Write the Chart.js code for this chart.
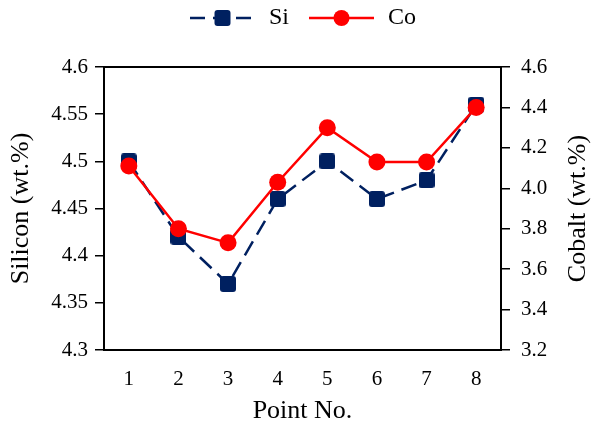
<!DOCTYPE html>
<html>
<head>
<meta charset="utf-8">
<script src="https://cdn.jsdelivr.net/npm/chart.js@4.4.1/dist/chart.umd.min.js"></script>
<style>
  html, body { margin: 0; padding: 0; background: #ffffff; }
  #wrap { width: 592px; height: 430px; }
</style>
</head>
<body>
<div id="wrap"><canvas id="chart" width="592" height="430"></canvas></div>
<script>
// Measurement points along the sample
const pointNo = ['1', '2', '3', '4', '5', '6', '7', '8'];
// Silicon content, wt.%
const siliconWt = [4.50, 4.42, 4.37, 4.46, 4.50, 4.46, 4.48, 4.56];
// Cobalt content, wt.%
const cobaltWt = [4.11, 3.80, 3.73, 4.03, 4.30, 4.13, 4.13, 4.40];
// Axis tick labels
const siliconTicks = ['4.3', '4.35', '4.4', '4.45', '4.5', '4.55', '4.6'];
const cobaltTicks = ['3.2', '3.4', '3.6', '3.8', '4.0', '4.2', '4.4', '4.6'];

const NAVY = '#002060';
const RED = '#FF0000';
const SERIF = "'Liberation Serif', 'Times New Roman', serif";

// Rounded square marker for the silicon series
function squareMarker(size, radius, color) {
  const c = document.createElement('canvas');
  c.width = size; c.height = size;
  const g = c.getContext('2d');
  g.fillStyle = color;
  g.beginPath();
  g.roundRect(0, 0, size, size, radius);
  g.fill();
  return c;
}

// Legend swatch: line segment with the series marker in the middle
function legendSwatch(kind, width, margin) {
  const h = 20;
  const c = document.createElement('canvas');
  c.width = width; c.height = h;
  const g = c.getContext('2d');
  const x0 = margin, x1 = width - 2, mid = (x0 + x1) / 2;
  g.lineWidth = 2.5;
  if (kind === 'si') {
    g.strokeStyle = NAVY;
    g.setLineDash([15, 8]);
    g.beginPath(); g.moveTo(x0, h / 2); g.lineTo(x1, h / 2); g.stroke();
    g.fillStyle = NAVY;
    g.beginPath(); g.roundRect(mid - 8, h / 2 - 8, 16, 16, 3); g.fill();
  } else {
    g.strokeStyle = RED;
    g.beginPath(); g.moveTo(x0, h / 2); g.lineTo(x1, h / 2); g.stroke();
    g.fillStyle = RED;
    g.beginPath(); g.arc(mid, h / 2, 8, 0, Math.PI * 2); g.fill();
  }
  return c;
}

const SWATCH_W = 81;
const siSwatch = legendSwatch('si', SWATCH_W, 14);
const coSwatch = legendSwatch('co', SWATCH_W, 14);

const tickFont = { family: SERIF, size: 21 };
const titleFont = { family: SERIF, size: 26 };

// Closes the plot frame along the top edge
const frameTop = {
  id: 'frameTop',
  beforeDatasetsDraw(chart) {
    const { ctx, chartArea: a } = chart;
    ctx.save();
    ctx.strokeStyle = '#000';
    ctx.lineWidth = 2;
    ctx.beginPath();
    ctx.moveTo(a.left - 1, a.top);
    ctx.lineTo(a.right + 1, a.top);
    ctx.stroke();
    ctx.restore();
  }
};

// Keeps the legend row at the very top of the canvas
const legendAtTop = {
  id: 'legendAtTop',
  afterLayout(chart) {
    const l = chart.legend;
    if (!l) return;
    const h = l.height;
    l.top = 0;
    l.bottom = h;
  }
};

// Right-hand axis title, reading bottom to top like the left one
const rightTitle = {
  id: 'rightTitle',
  afterDraw(chart) {
    const { ctx, chartArea: a } = chart;
    ctx.save();
    ctx.translate(578, (a.top + a.bottom) / 2);
    ctx.rotate(-Math.PI / 2);
    ctx.font = `${titleFont.size}px ${SERIF}`;
    ctx.fillStyle = '#000';
    ctx.textAlign = 'center';
    ctx.textBaseline = 'middle';
    ctx.fillText('Cobalt (wt.%)', 0, 0);
    ctx.restore();
  }
};

new Chart(document.getElementById('chart'), {
  type: 'line',
  data: {
    labels: pointNo,
    datasets: [
      {
        label: 'Si',
        data: siliconWt,
        yAxisID: 'y',
        borderColor: NAVY,
        backgroundColor: NAVY,
        borderWidth: 2.5,
        borderDash: [16, 8],
        pointStyle: squareMarker(16, 3, NAVY),
        pointRadius: 8,
        tension: 0,
        order: 2
      },
      {
        label: 'Co',
        data: cobaltWt,
        yAxisID: 'y1',
        borderColor: RED,
        backgroundColor: RED,
        borderWidth: 2.5,
        pointStyle: 'circle',
        pointRadius: 8.5,
        pointBorderWidth: 0,
        tension: 0,
        order: 1
      }
    ]
  },
  options: {
    responsive: false,
    animation: false,
    layout: { padding: 0 },
    plugins: {
      tooltip: { enabled: false },
      legend: {
        position: 'top',
        labels: {
          usePointStyle: true,
          pointStyleWidth: SWATCH_W,
          boxHeight: 20,
          padding: 6,
          color: '#000',
          font: { family: SERIF, size: 24 },
          generateLabels: () => [
            { text: 'Si', pointStyle: siSwatch, fillStyle: NAVY, strokeStyle: NAVY, lineWidth: 0, fontColor: '#000', datasetIndex: 0 },
            { text: 'Co', pointStyle: coSwatch, fillStyle: RED, strokeStyle: RED, lineWidth: 0, fontColor: '#000', datasetIndex: 1 }
          ]
        }
      }
    },
    scales: {
      x: {
        type: 'category',
        offset: true,
        grid: { display: false, drawTicks: false },
        border: { display: true, color: '#000', width: 2 },
        ticks: { color: '#000', font: tickFont, padding: 17 },
        title: { display: true, text: 'Point No.', color: '#000', font: titleFont, padding: { top: 0, bottom: 3 } },
        afterFit: s => { s.height = 80; }
      },
      y: {
        position: 'left',
        min: 4.3,
        max: 4.6,
        afterBuildTicks: s => { s.ticks = siliconTicks.map(t => ({ value: parseFloat(t) })); },
        grid: { drawOnChartArea: false, drawTicks: true, tickLength: 9, color: '#000', lineWidth: 1.5 },
        border: { display: true, color: '#000', width: 2 },
        ticks: { color: '#000', font: tickFont, padding: 7, callback: (v, i) => siliconTicks[i] },
        title: { display: true, text: 'Silicon (wt.%)', color: '#000', font: titleFont, padding: { top: 6, bottom: 0 } },
        afterFit: s => { s.width = 104; s.paddingTop = 67; s.paddingBottom = 0; }
      },
      y1: {
        position: 'right',
        min: 3.2,
        max: 4.6,
        afterBuildTicks: s => { s.ticks = cobaltTicks.map(t => ({ value: parseFloat(t) })); },
        grid: { drawOnChartArea: false, drawTicks: true, tickLength: 9, color: '#000', lineWidth: 1.5 },
        border: { display: true, color: '#000', width: 2 },
        ticks: { color: '#000', font: tickFont, padding: 11, callback: (v, i) => cobaltTicks[i] },
        title: { display: false },
        afterFit: s => { s.width = 91; s.paddingTop = 67; s.paddingBottom = 0; }
      }
    }
  },
  plugins: [frameTop, legendAtTop, rightTitle]
});
</script>
</body>
</html>
